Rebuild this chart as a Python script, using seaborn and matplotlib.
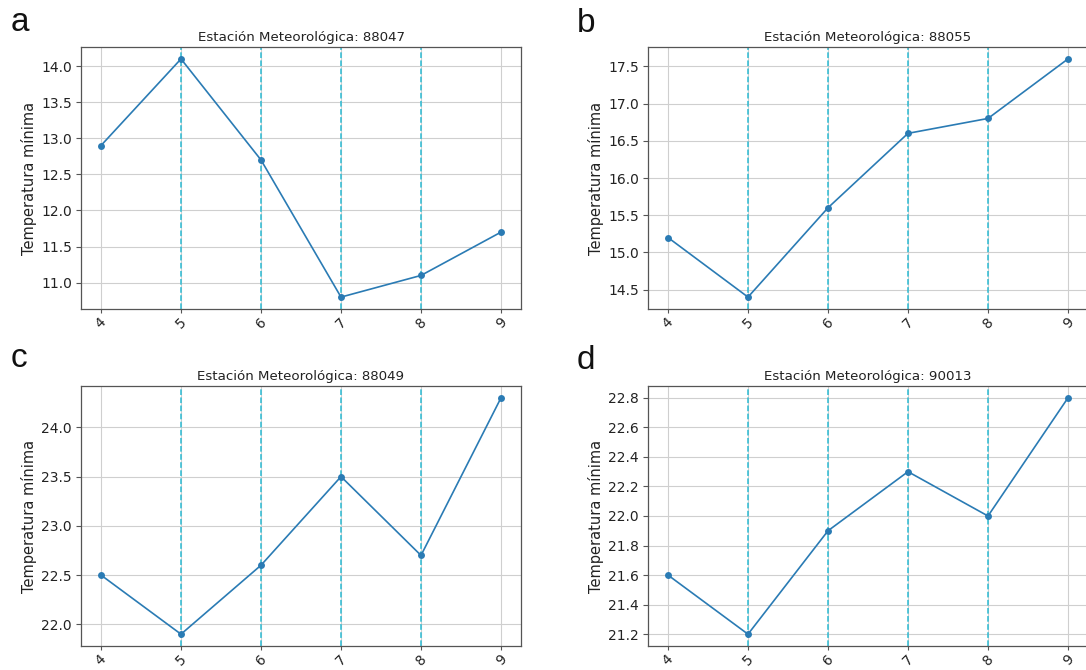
import matplotlib
matplotlib.use("Agg")
import matplotlib.pyplot as plt
import seaborn as sns

# Months (x axis) and minimum temperature per weather station
meses = [4, 5, 6, 7, 8, 9]
meses_marcados = [5, 6, 7, 8]

estacion_88047 = [12.9, 14.1, 12.7, 10.8, 11.1, 11.7]
estacion_88055 = [15.2, 14.4, 15.6, 16.6, 16.8, 17.6]
estacion_88049 = [22.5, 21.9, 22.6, 23.5, 22.7, 24.3]
estacion_90013 = [21.6, 21.2, 21.9, 22.3, 22.0, 22.8]

paneles = [
    ("a", "88047", estacion_88047),
    ("b", "88055", estacion_88055),
    ("c", "88049", estacion_88049),
    ("d", "90013", estacion_90013),
]

sns.set_style("ticks")
plt.rcParams["font.family"] = ["DejaVu Sans"]

W, H = 1086, 670
fig = plt.figure(figsize=(W / 100, H / 100), dpi=100)

# axes boxes in pixels: (left, top, right, bottom)
cajas = [
    (81, 47, 521, 309),
    (648, 47, 1088, 309),
    (81, 386, 521, 646),
    (648, 386, 1088, 646),
]
letras_pos = [(11, 31), (577, 32), (11, 367), (577, 369)]

linea = "#2a7bb4"
guia = "#2bbbd3"

for (letra, codigo, valores), (l, t, r, b), (lx, ly) in zip(paneles, cajas, letras_pos):
    ax = fig.add_axes([l / W, 1 - b / H, (r - l) / W, (b - t) / H])
    ax.grid(True, color="#cfcfcf", linewidth=0.8)
    ax.set_axisbelow(True)
    for m in meses_marcados:
        ax.axvline(m, color=guia, linestyle="--", linewidth=1.1, zorder=1.5)
    sns.lineplot(x=meses, y=valores, ax=ax, color=linea, marker="o",
                 markersize=5, markeredgewidth=0, linewidth=1.2, zorder=3)
    ax.set_xticks(meses)
    ax.set_xticklabels([str(m) for m in meses], rotation=45, fontsize=10,
                       color="#222222")
    ax.tick_params(axis="y", labelsize=10, labelcolor="#222222", length=3.5,
                   color="#555555", pad=3)
    ax.tick_params(axis="x", length=3, color="#555555", pad=1.5)
    ax.set_xlabel("")
    ax.set_ylabel("Temperatura mínima", fontsize=10.5, color="#222222",
                  labelpad=3)
    ax.set_title(f"Estación Meteorológica: {codigo}", fontsize=9.6,
                 color="#222222", pad=4)
    for s in ax.spines.values():
        s.set_visible(True)
        s.set_color("#555555")
        s.set_linewidth(0.9)
    fig.text(lx / W, 1 - ly / H, letra, fontsize=24, family="Liberation Sans",
             ha="left", va="baseline", color="#111111")

fig.savefig("out.png", dpi=100, facecolor="white")
